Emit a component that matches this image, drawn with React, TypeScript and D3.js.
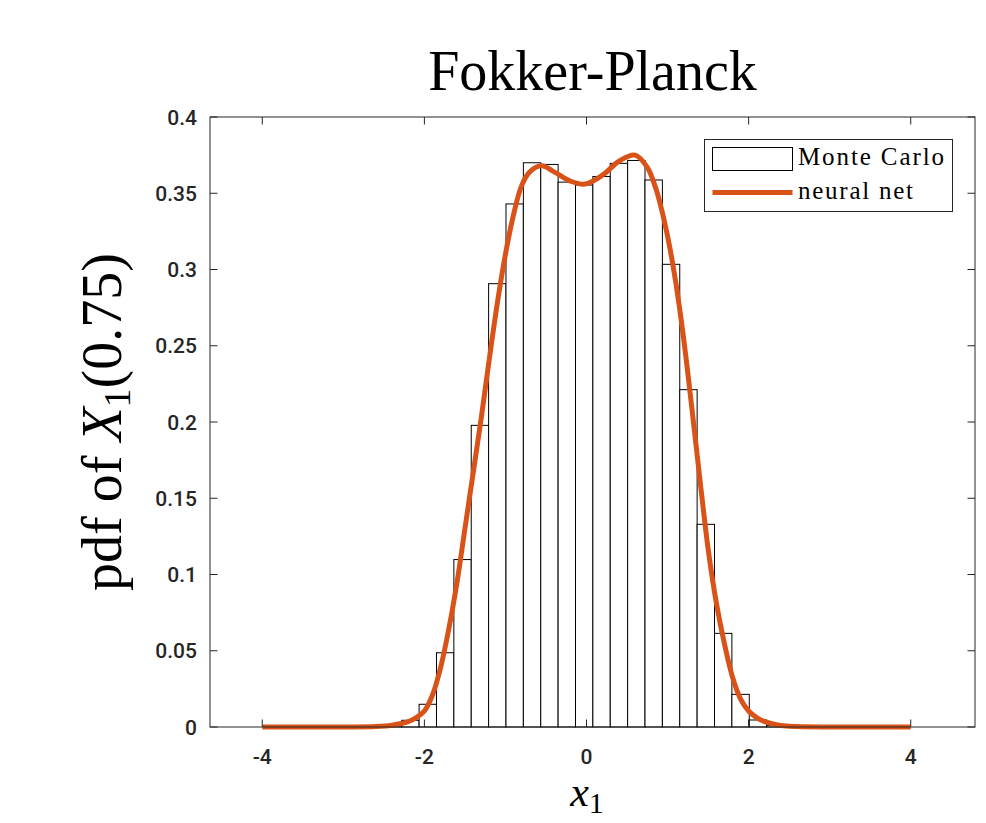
import React from "react";
import * as d3 from "d3";

// ---- data ----
const binStart = -4.209;
const binWidth = 0.21438;
const mcDensity = [
  0, 0, 0, 0, 0, 0, 0.0001, 0.0003, 0.0009,
  0.0044, 0.0149, 0.0487, 0.1098, 0.1978, 0.2907, 0.343, 0.37, 0.3689, 0.3573,
  0.3554, 0.361, 0.3696, 0.3715, 0.3587, 0.3034, 0.2212, 0.1329, 0.0614, 0.0214, 0.0046,
  0.0011, 0.0003, 0.0001, 0, 0, 0, 0, 0, 0, 0,
];
const nnX = [
  -4, -3, -2.6, -2.4, -2.2, -2.1, -2.0, -1.9, -1.8, -1.7, -1.6, -1.5, -1.4, -1.3, -1.2,
  -1.1, -1.0, -0.9, -0.8, -0.7, -0.553, -0.4, -0.2, -0.018, 0.2, 0.4, 0.598, 0.75,
  0.85, 0.9, 1.0, 1.1, 1.2, 1.3, 1.4, 1.5, 1.6, 1.7, 1.8, 1.9, 2.0,
  2.1, 2.2, 2.4, 2.6, 3, 4,
];
const nnY = [
  0, 0, 0.0003, 0.0012, 0.0035, 0.0062, 0.0105, 0.021, 0.039, 0.064, 0.094, 0.13, 0.166,
  0.202, 0.241, 0.278, 0.31, 0.336, 0.355, 0.364, 0.368, 0.364, 0.358, 0.356, 0.362,
  0.371, 0.375, 0.367, 0.354, 0.345, 0.322, 0.292, 0.254, 0.209, 0.162, 0.117,
  0.082, 0.055, 0.033, 0.0185, 0.0105, 0.0062, 0.0035, 0.001, 0.0003, 0, 0,
];
const xTicks = [-4, -2, 0, 2, 4];
const xTickLabels = ["-4", "-2", "0", "2", "4"];
const yTicks = [0, 0.05, 0.1, 0.15, 0.2, 0.25, 0.3, 0.35, 0.4];
const yTickLabels = ["0", "0.05", "0.1", "0.15", "0.2", "0.25", "0.3", "0.35", "0.4"];
const titleText = "Fokker-Planck";
const legendLabels = ["Monte Carlo", "neural net"];

// ---- layout ----
const W = 986;
const H = 823;
const L = 210;
const R = 975;
const T = 117;
const B = 727;
const axisColor = "#262626";
const orange = "#D95319";
const serif = "'Liberation Serif', 'Times New Roman', serif";
const sans = "Roboto, 'Liberation Sans', Arial, Helvetica, sans-serif";

export default function App() {
  const x = d3.scaleLinear().domain([-4.645, 4.793]).range([L, R]);
  const y = d3.scaleLinear().domain([0, 0.4]).range([B, T]);
  const tick = 7.5;

  const line = d3
    .line<number>()
    .x((_, i) => x(nnX[i]))
    .y((d) => y(Math.max(0, d)))
    .curve(d3.curveCatmullRom.alpha(0.5));

  return (
    <div style={{ position: "absolute", left: 0, top: 0 }}>
      <svg width={W} height={H} style={{ display: "block", background: "#fff" }}>
        <rect x={0} y={0} width={W} height={H} fill="#fff" />
        {/* histogram */}
        <g>
          {mcDensity.map((v, i) => {
            const x0 = x(binStart + i * binWidth);
            const x1 = x(binStart + (i + 1) * binWidth);
            return (
              <rect
                key={i}
                x={x0}
                y={y(v)}
                width={x1 - x0}
                height={y(0) - y(v)}
                fill="#fff"
                stroke="#000"
                strokeWidth={1}
              />
            );
          })}
        </g>
        {/* neural net curve */}
        <path d={line(nnY) || ""} fill="none" stroke={orange} strokeWidth={5} strokeLinejoin="round" />
        {/* axes box */}
        <rect x={L} y={T} width={R - L} height={B - T} fill="none" stroke={axisColor} strokeWidth={1} />
        {xTicks.map((t) => (
          <g key={"xt" + t}>
            <line x1={x(t)} x2={x(t)} y1={B} y2={B - tick} stroke={axisColor} strokeWidth={1} />
            <line x1={x(t)} x2={x(t)} y1={T} y2={T + tick} stroke={axisColor} strokeWidth={1} />
          </g>
        ))}
        {yTicks.map((t) => (
          <g key={"yt" + t}>
            <line x1={L} x2={L + tick} y1={y(t)} y2={y(t)} stroke={axisColor} strokeWidth={1} />
            <line x1={R} x2={R - tick} y1={y(t)} y2={y(t)} stroke={axisColor} strokeWidth={1} />
          </g>
        ))}
        {/* tick labels */}
        {xTicks.map((t, i) => (
          <text key={"xl" + t} x={x(t)} y={764} textAnchor="middle" fontFamily={sans} fontWeight={500} fontSize={21} fill={axisColor}>
            {xTickLabels[i]}
          </text>
        ))}
        {yTicks.map((t, i) => (
          <text
            key={"yl" + t}
            x={197}
            y={y(t) + 7.5}
            textAnchor="end"
            fontFamily={sans}
            fontWeight={500}
            fontSize={21}
            fill={axisColor}
          >
            {yTickLabels[i]}
          </text>
        ))}
        {/* title */}
        <text x={(L + R) / 2} y={90} textAnchor="middle" fontFamily={serif} fontSize={56} fill="#000">
          {titleText}
        </text>
        {/* y label */}
        <text
          transform={`translate(121, ${(T + B) / 2}) rotate(-90)`}
          textAnchor="middle"
          fontFamily={serif}
          fontSize={56}
          fill="#000"
        >
          pdf of <tspan fontStyle="italic">X</tspan>
          <tspan fontSize={38} dy={9}>1</tspan>
          <tspan dy={-9}>(0.75)</tspan>
        </text>
        {/* x label */}
        <text x={587} y={806} textAnchor="middle" fontFamily={serif} fontSize={42} fill="#000">
          <tspan fontStyle="italic">x</tspan>
          <tspan fontSize={30} dy={7}>1</tspan>
        </text>
        {/* legend */}
        <g>
          <rect x={704.5} y={139.5} width={248} height={72} fill="#fff" stroke={axisColor} strokeWidth={1} />
          <rect x={712.5} y={147.5} width={80} height={23} fill="#fff" stroke="#000" strokeWidth={1} />
          <line x1={712.5} x2={792.5} y1={192.5} y2={192.5} stroke={orange} strokeWidth={5} />
          <text x={798} y={165} fontFamily={serif} fontSize={25} textLength={146} lengthAdjust="spacing" fill="#000">
            {legendLabels[0]}
          </text>
          <text x={798} y={199} fontFamily={serif} fontSize={25} textLength={115} lengthAdjust="spacing" fill="#000">
            {legendLabels[1]}
          </text>
        </g>
      </svg>
    </div>
  );
}
